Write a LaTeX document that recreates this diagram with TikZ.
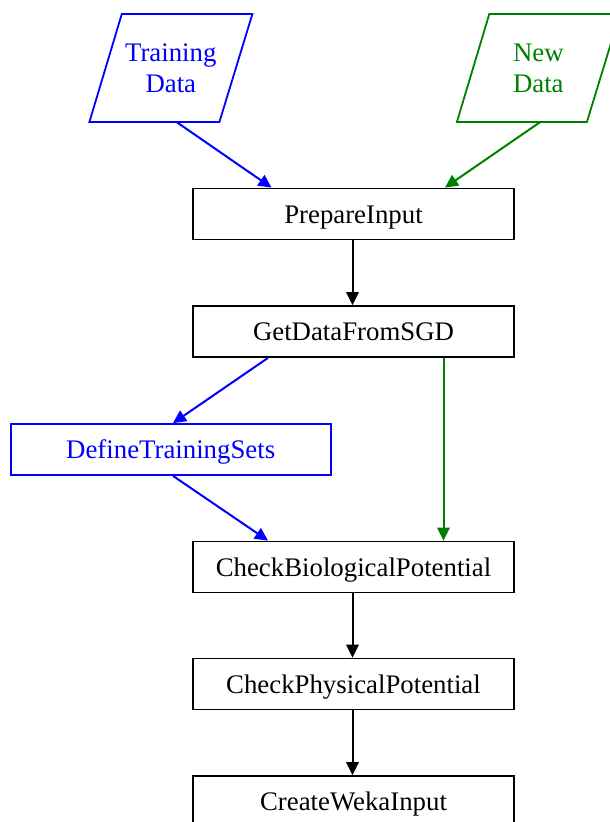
\documentclass[tikz,border=0pt]{standalone}
\usepackage{fontspec}
\setmainfont{Liberation Serif}
\usetikzlibrary{arrows.meta,calc}
\definecolor{dgreen}{RGB}{0,128,0}
\tikzset{
  every node/.style={font=\fontsize{26.8}{31}\selectfont},
  stepbox/.style={draw, line width=1.8pt, rectangle, minimum width=321pt, minimum height=51pt,
    inner sep=0pt, text height=18.6pt, text depth=0pt},
  datatext/.style={rectangle, minimum width=163pt, minimum height=108pt, inner sep=0pt, align=center},
  dataframe/.style={line width=1.8pt, line join=miter},
  flow/.style={line width=2pt, -{Triangle[length=13pt,width=12.5pt]}},
}
% slanted data frame drawn around a named node
\newcommand\dataframeat[2]{%
  \draw[dataframe,#2] ($(#1)+(-49,-54)$) -- ($(#1)+(81.6,-54)$) -- ($(#1)+(48.6,54)$) -- ($(#1)+(-81.4,54)$) -- cycle;}
\begin{document}
\begin{tikzpicture}[x=1pt,y=-1pt]
\path[use as bounding box, clip] (0,0) rectangle (610,822);

% input data
\node[datatext, text=blue] (train) at (170.8,68) {Training\\Data};
\dataframeat{train}{blue}
\node[datatext, text=dgreen] (new) at (538.3,68) {New\\Data};
\dataframeat{new}{dgreen}

% processing steps
\node[stepbox] (prep) at (353.5,214) {PrepareInput};
\node[stepbox] (sgd) at (353.5,331.5) {GetDataFromSGD};
\node[stepbox, blue, text=blue, minimum width=320pt] (sets) at (170.7,449.5) {DefineTrainingSets};
\node[stepbox] (bio) at (353.5,567) {CheckBiologicalPotential};
\node[stepbox] (phys) at (353.5,684) {CheckPhysicalPotential};
\node[stepbox] (weka) at (353.5,801.5) {CreateWekaInput};

% connectors
\draw[flow, blue] ([xshift=6pt]train.south) -- ([xshift=-82pt]prep.north);
\draw[flow, dgreen] ([xshift=1.7pt]new.south) -- ([xshift=91.5pt]prep.north);
\draw[flow] ([xshift=-1pt]prep.south) -- ([xshift=-1pt]sgd.north);
\draw[flow, blue] ([xshift=-85.5pt]sgd.south) -- ([xshift=2.3pt]sets.north);
\draw[flow, dgreen] ([xshift=90pt]sgd.south) -- ([xshift=90pt]bio.north);
\draw[flow, blue] ([xshift=2.3pt]sets.south) -- ([xshift=-85.5pt]bio.north);
\draw[flow] ([xshift=-1pt]bio.south) -- ([xshift=-1pt]phys.north);
\draw[flow] ([xshift=-1pt]phys.south) -- ([xshift=-1pt]weka.north);
\end{tikzpicture}
\end{document}
